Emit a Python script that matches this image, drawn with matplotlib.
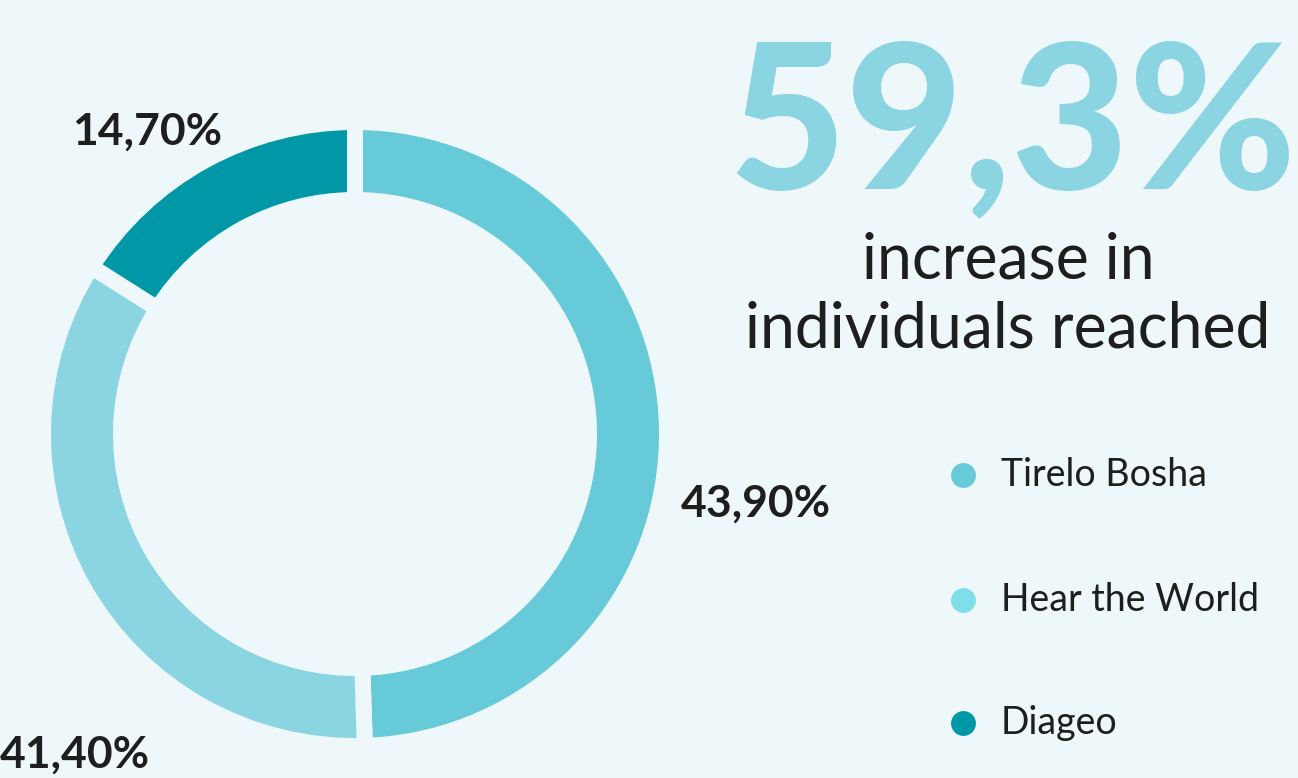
import numpy as np
import matplotlib.pyplot as plt

# data
categories = ['Tirelo Bosha', 'Hear the World', 'Diageo']
arc_shares = [49.5, 34.5, 16.0]          # proportions as drawn in the ring
pct_labels = ['43,90%', '41,40%', '14,70%']
headline = '59,3%'
subline = ['increase in', 'individuals reached']

ring_colors = ['#66CAD8', '#8BD4E1', '#0098A6']
dot_colors = ['#66CAD8', '#80DEEA', '#0098A6']
bg = '#EEF7FA'
txt = '#1E1E1E'

W, H = 1298, 778
fig = plt.figure(figsize=(W / 100, H / 100), dpi=100, facecolor=bg)
ax = fig.add_axes([0, 0, 1, 1])

# donut, gaps made with background-coloured edges
cx, cy = 355, H - 434
gap = 16  # px
ax.pie(arc_shares, colors=ring_colors, startangle=90, counterclock=False,
       center=(cx, cy), radius=304 + gap / 2, frame=True,
       wedgeprops=dict(width=62 + gap, edgecolor=bg, linewidth=gap * 0.72))
ax.set_xlim(0, W)
ax.set_ylim(0, H)
ax.set_aspect('equal')
ax.axis('off')

lbl_font = dict(family='Lato', fontweight='bold', fontsize=32, color=txt)
ax.text(72, H - 132, pct_labels[2], ha='left', va='center', **lbl_font)
ax.text(681, H - 504, pct_labels[0], ha='left', va='center', **lbl_font)
ax.text(0, H - 755, pct_labels[1], ha='left', va='center', **lbl_font)

# headline
ax.text(1012, H - 188, headline, ha='center', va='baseline', family='Lato',
        fontweight='black', fontsize=146, color='#8BD4E1')
for line, y in zip(subline, [278, 347]):
    ax.text(1008, H - y, line, ha='center', va='baseline', family='Lato',
            fontsize=45, color=txt)

# legend
leg_y = [475, 600, 723]
for name, col, y in zip(categories, dot_colors, leg_y):
    ax.scatter([963], [H - y], s=320, color=col, linewidths=0)
    ax.text(1001, H - y, name, ha='left', va='center', family='Lato',
            fontsize=27, color=txt)

fig.savefig('out.png', dpi=100, facecolor=bg)
